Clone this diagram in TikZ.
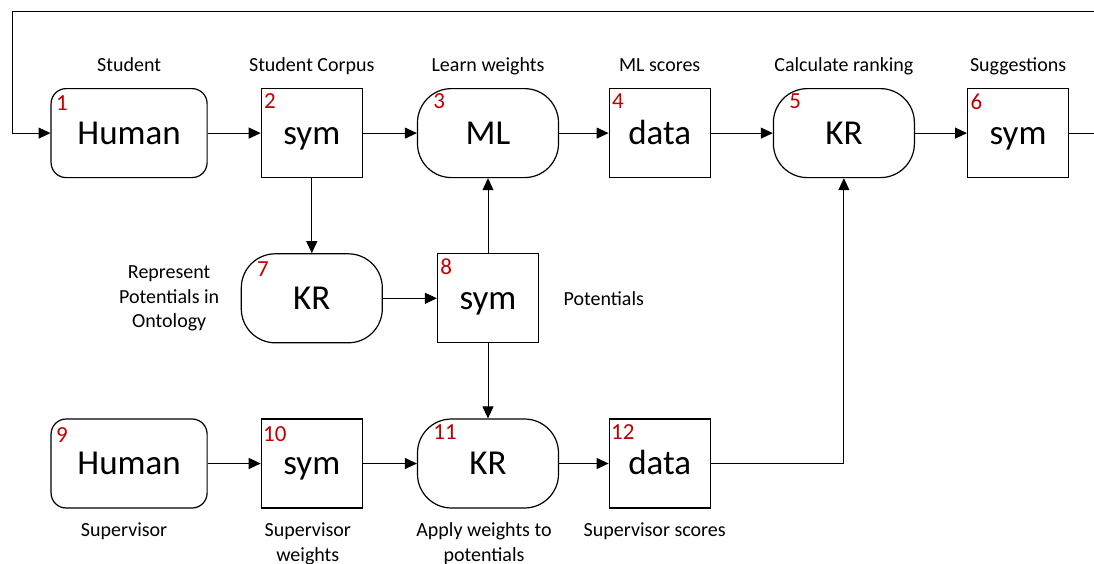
\documentclass[tikz,border=0pt]{standalone}
\usepackage{fontspec}
\setmainfont{Carlito}
\usepackage{tikz}
\usetikzlibrary{matrix}
\usetikzlibrary{positioning}
\usetikzlibrary{arrows.meta}
\definecolor{numred}{HTML}{C00000}

\begin{document}
\begin{tikzpicture}[>={Triangle[length=12pt,width=11pt]},line width=1pt,
	box/.style={draw,line width=1.2pt,inner sep=0pt,minimum height=89pt,text height=27pt,text depth=4.5pt,font=\fontsize{35}{40}\selectfont},
	human/.style={box,rounded corners=15pt,minimum width=156pt},
	sym/.style={box,minimum width=101pt},
	kr/.style={box,rounded corners=34pt,minimum width=141pt},
	num/.style={anchor=north west,inner sep=0pt,text=numred,font=\fontsize{23}{23}\selectfont},
	lbl/.style={inner sep=0pt,align=center,font=\fontsize{20}{24.5}\selectfont}
	]
		\useasboundingbox (0,0) rectangle (1094pt,-563pt);
		\matrix (flow) [%
		matrix of nodes,
		anchor=north west,
		inner sep=0pt,
		nodes={anchor=center},
		column sep=33pt,
		row sep=75pt,ampersand replacement=\&
		] at (50pt,-87.5pt)
		{
			|[human]| Human \& |[sym]| sym \&[1pt] |[kr]| ML \&[16.5pt] |[sym]| data \&[29pt] |[kr]| KR \&[19pt] |[sym]| sym \\
			\& |[kr]| KR \& |[sym]| sym \& \& \& \\
			|[human]| Human \& |[sym]| sym \& |[kr]| KR \& |[sym]| data \& \& \\
		};
		% numbers
		\node[num] at ([xshift=5pt,yshift=-7pt]flow-1-1.north west) {1};
		\node[num] at ([xshift=3pt,yshift=-5pt]flow-1-2.north west) {2};
		\node[num] at ([xshift=16pt,yshift=-5pt]flow-1-3.north west) {3};
		\node[num] at ([xshift=3pt,yshift=-5pt]flow-1-4.north west) {4};
		\node[num] at ([xshift=16pt,yshift=-5pt]flow-1-5.north west) {5};
		\node[num] at ([xshift=3pt,yshift=-5pt]flow-1-6.north west) {6};
		\node[num] at ([xshift=16pt,yshift=-8pt]flow-2-2.north west) {7};
		\node[num] at ([xshift=3pt,yshift=-5pt]flow-2-3.north west) {8};
		\node[num] at ([xshift=5pt,yshift=-9pt]flow-3-1.north west) {9};
		\node[num] at ([xshift=2pt,yshift=-8pt]flow-3-2.north west) {10};
		\node[num] at ([xshift=16pt,yshift=-6pt]flow-3-3.north west) {11};
		\node[num] at ([xshift=2pt,yshift=-6pt]flow-3-4.north west) {12};
		% labels
		\node[lbl,anchor=base] at ([yshift=17pt]flow-1-1.north) {Student};
		\node[lbl,anchor=base] at ([yshift=17pt]flow-1-2.north) {Student Corpus};
		\node[lbl,anchor=base] at ([yshift=17pt]flow-1-3.north) {Learn weights};
		\node[lbl,anchor=base] at ([yshift=17pt]flow-1-4.north) {ML scores};
		\node[lbl,anchor=base] at ([yshift=17pt]flow-1-5.north) {Calculate ranking};
		\node[lbl,anchor=base] at ([yshift=17pt]flow-1-6.north) {Suggestions};
		\node[lbl,left=21pt of flow-2-2] {Represent\\Potentials in\\Ontology};
		\node[lbl,right=24pt of flow-2-3] {Potentials};
		\node[lbl,below=14pt of flow-3-1,xshift=-5pt] {Supervisor};
		\node[lbl,below=14pt of flow-3-2,xshift=-4pt] {Supervisor\\weights};
		\node[lbl,below=14pt of flow-3-3,xshift=-4pt] {Apply weights to\\potentials};
		\node[lbl,below=14pt of flow-3-4,xshift=-5pt] {Supervisor scores};
		% connectors
		\coordinate (loopR) at (1110pt,-11pt);
		\coordinate (loopL) at (12pt,-11pt);
		\draw[->] (flow-1-1) -- (flow-1-2);
		\draw[->] (flow-1-2) -- (flow-1-3);
		\draw[->] (flow-1-3) -- (flow-1-4);
		\draw[->] (flow-1-4) -- (flow-1-5);
		\draw[->] (flow-1-5) -- (flow-1-6);
		\draw[->] (flow-1-6) -- (flow-1-6 -| loopR) -- (loopR) -- (loopL) |- (flow-1-1);
		\draw[->] (flow-1-2) -- (flow-2-2);
		\draw[->] (flow-2-2) -- (flow-2-3);
		\draw[->] (flow-2-3) -- (flow-1-3);
		\draw[->] (flow-2-3) -- (flow-3-3);
		\draw[->] (flow-3-1) -- (flow-3-2);
		\draw[->] (flow-3-2) -- (flow-3-3);
		\draw[->] (flow-3-3) -- (flow-3-4);
		\draw[->] (flow-3-4) -| (flow-1-5);
\end{tikzpicture}
\end{document}
